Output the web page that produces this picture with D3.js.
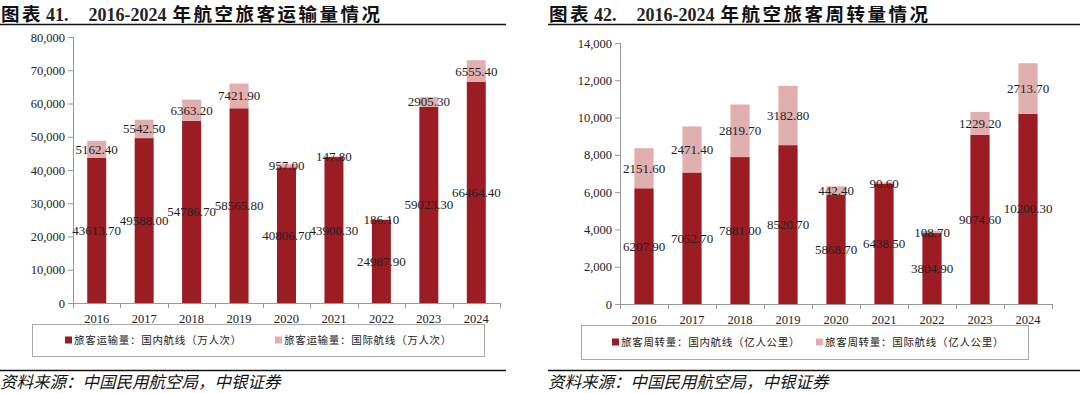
<!DOCTYPE html>
<meta charset='utf-8'>
<head>
    <title>航空旅客运输量与周转量</title>
    <script src='https://cdn.jsdelivr.net/npm/d3@7/dist/d3.min.js'></script>
</head>

<style>
    body { margin: 0; background: #fff; }
    svg { display: block; }
    .num { font-family: 'Liberation Serif', 'DejaVu Serif', serif; fill: #222; }
    .cjk { font-family: 'Noto Sans CJK SC', sans-serif; }
    .title { font-weight: bold; font-size: 18px; fill: #111; }
</style>

<svg></svg>

<script>
    var vWidth = 1080;
    var vHeight = 393;

    var vYears = ['2016', '2017', '2018', '2019', '2020', '2021', '2022', '2023', '2024'];

    // 旅客运输量 (万人次)
    var vPaxDomestic = [43613.70, 49588.00, 54786.70, 58565.80, 40806.70, 43900.30, 24987.90, 59023.30, 66464.40];
    var vPaxIntl = [5162.40, 5542.50, 6363.20, 7421.90, 957.00, 147.80, 186.10, 2905.30, 6555.40];
    var vPaxTicks = [0, 10000, 20000, 30000, 40000, 50000, 60000, 70000, 80000];

    // 旅客周转量 (亿人公里)
    var vRpkDomestic = [6207.90, 7052.70, 7881.00, 8520.70, 5868.70, 6438.50, 3804.90, 9074.60, 10200.30];
    var vRpkIntl = [2151.60, 2471.40, 2819.70, 3182.80, 442.40, 90.60, 108.70, 1229.20, 2713.70];
    var vRpkTicks = [0, 2000, 4000, 6000, 8000, 10000, 12000, 14000];

    var cDark = '#9B1C23';
    var cLight = '#E1AFAF';

    var svg = d3.select('svg').attr('width', vWidth).attr('height', vHeight);

    function drawPanel(p) {
        var g = svg.append('g');

        // title + rules
        var t = g.append('text').attr('class', 'title').attr('x', p.x0 + 1).attr('y', 20.5);
        t.append('tspan').attr('class', 'cjk').style('font-size', '18.5px').style('letter-spacing', '2.5px').text(p.titleA);
        t.append('tspan').attr('class', 'num').style('font-weight', 'bold').attr('dx', 3).text(p.titleNum);
        t.append('tspan').attr('class', 'num').style('font-weight', 'bold').attr('dx', 20).text('2016-2024');
        t.append('tspan').attr('class', 'cjk').style('font-size', '18.5px').style('letter-spacing', '2.5px')
            .attr('dx', 6).text(p.titleB);

        g.append('line').attr('x1', p.x0).attr('x2', p.x1).attr('y1', 24.5).attr('y2', 24.5)
            .attr('stroke', '#111').attr('stroke-width', 1.6);
        g.append('line').attr('x1', p.x0).attr('x2', p.x1).attr('y1', 370.5).attr('y2', 370.5)
            .attr('stroke', '#111').attr('stroke-width', 1.6);
        g.append('text').attr('class', 'cjk').attr('x', p.x0).attr('y', 388)
            .style('font-size', '16.5px').style('font-style', 'italic').attr('fill', '#111')
            .text('资料来源：中国民用航空局，中银证券');

        var x = d3.scaleBand().domain(vYears).range([p.left, p.right]).paddingInner(0.6).paddingOuter(0.3);
        var y = d3.scaleLinear().domain([0, p.max]).range([p.bottom, p.top]);

        // axes
        var yAxis = g.append('g').attr('transform', 'translate(' + p.left + ',0)')
            .call(d3.axisLeft(y).tickValues(p.ticks).tickSize(5).tickFormat(d3.format(',')));
        yAxis.selectAll('text').attr('class', 'num').style('font-size', '12.5px').attr('fill', '#222');
        yAxis.selectAll('line, path').attr('stroke', '#999');
        yAxis.select('path').attr('d', 'M0.5,' + p.top + 'V' + p.bottom);

        var xb = d3.scaleLinear().domain([0, vYears.length]).range([p.left, p.right]);
        var xg = g.append('g');
        xg.append('line').attr('x1', p.left).attr('x2', p.right)
            .attr('y1', p.bottom + 0.5).attr('y2', p.bottom + 0.5).attr('stroke', '#999');
        xg.selectAll('line.tk').data(d3.range(vYears.length + 1)).enter().append('line')
            .attr('class', 'tk')
            .attr('x1', function (d) { return Math.round(xb(d)) + 0.5; })
            .attr('x2', function (d) { return Math.round(xb(d)) + 0.5; })
            .attr('y1', p.bottom).attr('y2', p.bottom + 5).attr('stroke', '#999');
        xg.selectAll('text').data(vYears).enter().append('text').attr('class', 'num')
            .attr('x', function (d) { return x(d) + x.bandwidth() / 2; })
            .attr('y', p.bottom + 20).attr('text-anchor', 'middle').style('font-size', '12.5px')
            .text(function (d) { return d; });

        // bars
        var rows = vYears.map(function (d, i) { return { year: d, dom: p.dom[i], intl: p.intl[i] }; });
        var stack = d3.stack().keys(['dom', 'intl'])(rows);
        var colors = [cDark, cLight];
        stack.forEach(function (s, k) {
            g.append('g').selectAll('rect').data(s).enter().append('rect')
                .attr('x', function (d) { return x(d.data.year); })
                .attr('width', x.bandwidth())
                .attr('y', function (d) { return y(d[1]); })
                .attr('height', function (d) { return y(d[0]) - y(d[1]); })
                .attr('fill', colors[k]);
        });
        stack.forEach(function (s) {
            g.append('g').selectAll('text').data(s).enter().append('text').attr('class', 'num')
                .attr('x', function (d) { return x(d.data.year) + x.bandwidth() / 2; })
                .attr('y', function (d) { return y((d[0] + d[1]) / 2) + 4.5; })
                .attr('text-anchor', 'middle').style('font-size', '13px').attr('fill', '#111')
                .text(function (d) { return (d[1] - d[0]).toFixed(2); });
        });

        // legend
        var lg = g.append('g');
        lg.append('rect').attr('x', p.lx0 + 0.5).attr('y', p.ly0 + 0.5)
            .attr('width', p.lx1 - p.lx0).attr('height', p.ly1 - p.ly0)
            .attr('fill', 'none').attr('stroke', '#aaa');
        var lyc = (p.ly0 + p.ly1) / 2;
        p.legend.forEach(function (t, i) {
            lg.append('rect').attr('x', p.lm[i]).attr('y', lyc - 3.5).attr('width', 7).attr('height', 7)
                .attr('fill', colors[i]);
            lg.append('text').attr('class', 'cjk').attr('x', p.lm[i] + 9).attr('y', lyc + 4)
                .style('font-size', '10.5px').style('letter-spacing', '0.7px').attr('fill', '#222')
                .text(t);
        });
    }

    drawPanel({
        x0: 0, x1: 506, left: 73, right: 500, top: 37, bottom: 303,
        max: 80000, ticks: vPaxTicks, dom: vPaxDomestic, intl: vPaxIntl,
        titleA: '图表', titleNum: '41.', titleB: '年航空旅客运输量情况',
        lx0: 32, lx1: 484, ly0: 324, ly1: 356, lm: [65, 275],
        legend: ['旅客运输量：国内航线（万人次）', '旅客运输量：国际航线（万人次）']
    });

    drawPanel({
        x0: 548, x1: 1080, left: 620, right: 1052, top: 43, bottom: 304,
        max: 14000, ticks: vRpkTicks, dom: vRpkDomestic, intl: vRpkIntl,
        titleA: '图表', titleNum: '42.', titleB: '年航空旅客周转量情况',
        lx0: 581, lx1: 1028, ly0: 325, ly1: 359, lm: [612, 816],
        legend: ['旅客周转量：国内航线（亿人公里）', '旅客周转量：国际航线（亿人公里）']
    });
</script>
